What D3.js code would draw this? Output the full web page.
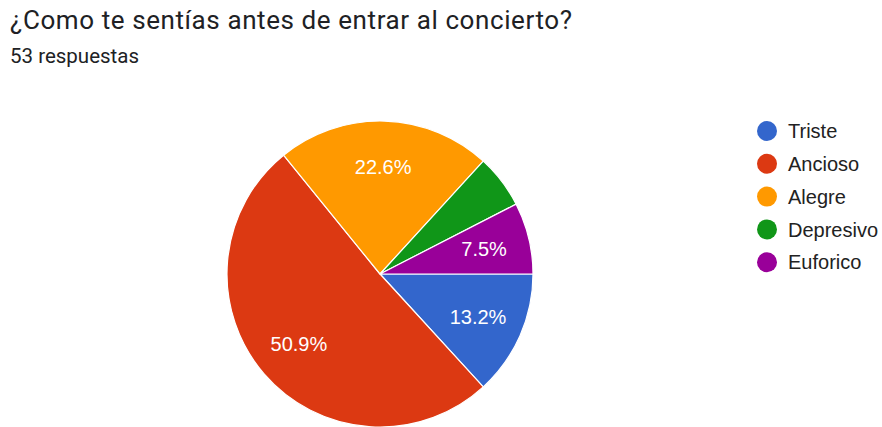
<!DOCTYPE html>
<html>
<head>
<meta charset="utf-8">
<script src="https://cdn.jsdelivr.net/npm/d3@7"></script>
<style>
  html, body { margin: 0; padding: 0; background: #fff; }
  svg { display: block; }
</style>
</head>
<body>
<svg id="chart" width="882" height="427"></svg>
<script>
const title = "¿Como te sentías antes de entrar al concierto?";
const subtitle = "53 respuestas";
const categories = ["Triste", "Ancioso", "Alegre", "Depresivo", "Euforico"];
const counts = [7, 27, 12, 3, 4];
const colors = ["#3366cc", "#dc3912", "#ff9900", "#109618", "#990099"];

const svg = d3.select("#chart");
const W = 882, H = 427;
const cx = 380, cy = 274, R = 153;

svg.append("text").attr("x", 10).attr("y", 29)
  .attr("font-family", "Roboto, Arial, sans-serif").attr("font-size", 26)
  .attr("textLength", 562).attr("lengthAdjust", "spacing")
  .attr("fill", "#202124").text(title);
svg.append("text").attr("x", 10).attr("y", 63)
  .attr("font-family", "Roboto, Arial, sans-serif").attr("font-size", 20.5)
  .attr("fill", "#202124").text(subtitle);

const total = d3.sum(counts);
const data = categories.map((c, i) => ({ cat: c, value: counts[i], color: colors[i] }));
const pie = d3.pie().value(d => d.value).sort(null)
  .startAngle(Math.PI / 2).endAngle(Math.PI / 2 + 2 * Math.PI);
const arcs = pie(data);
const arc = d3.arc().innerRadius(0).outerRadius(R);
const labelArc = d3.arc().innerRadius(R * 0.7).outerRadius(R * 0.7);

const g = svg.append("g").attr("transform", `translate(${cx},${cy})`);
g.selectAll("path").data(arcs).join("path")
  .attr("d", arc).attr("fill", d => d.data.color)
  .attr("stroke", "#fff").attr("stroke-width", 1.2);

g.selectAll("text.lbl").data(arcs.filter(d => d.value / total >= 0.07)).join("text")
  .attr("class", "lbl")
  .attr("transform", d => `translate(${labelArc.centroid(d)})`)
  .attr("text-anchor", "middle").attr("dy", "0.36em")
  .attr("font-family", "Arial, 'Liberation Sans', sans-serif").attr("font-size", 20)
  .attr("fill", "#fff")
  .text(d => d3.format(".1f")(d.value / total * 100) + "%");

const legend = svg.append("g").attr("transform", "translate(767,131)");
const step = 32.8;
const li = legend.selectAll("g").data(data).join("g")
  .attr("transform", (d, i) => `translate(0,${i * step})`);
li.append("circle").attr("r", 10).attr("fill", d => d.color);
li.append("text").attr("x", 21).attr("dy", "0.36em")
  .attr("font-family", "Arial, 'Liberation Sans', sans-serif").attr("font-size", 20)
  .attr("fill", "#222").text(d => d.cat);
</script>
</body>
</html>
